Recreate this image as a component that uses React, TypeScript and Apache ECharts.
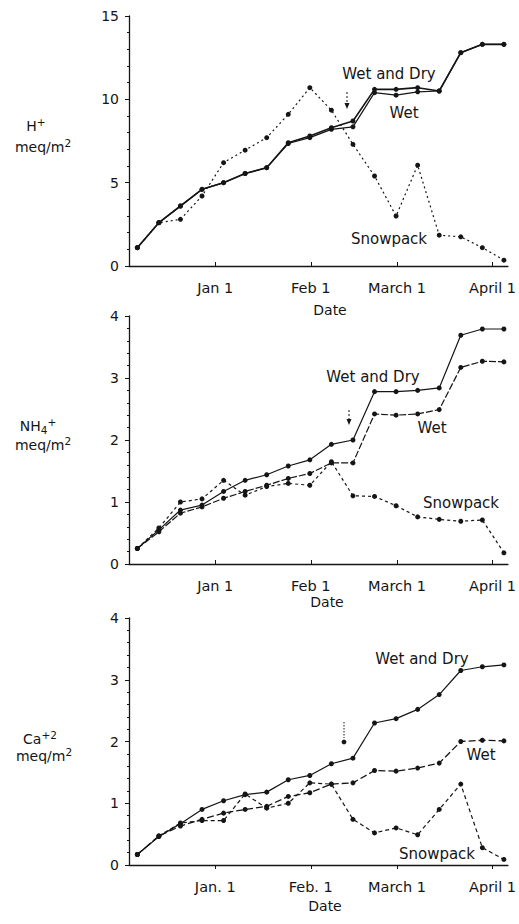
import React, { useEffect, useRef } from "react";
import * as echarts from "echarts";

// Sample days (days relative to Jan 1; negative = December), roughly weekly
const DAYS = [-25.3, -18.3, -11.3, -4.3, 2.7, 9.7, 16.7, 23.7, 30.7, 37.7, 44.7, 51.7, 58.7, 65.7, 72.7, 79.7, 86.7, 93.7];

// Tick positions (days from Jan 1) and labels
const TICK_DAYS = [0, 31, 59, 90];
const TICK_LABELS_A = ["Jan 1", "Feb 1", "March 1", "April 1"];
const TICK_LABELS_B = ["Jan. 1", "Feb. 1", "March 1", "April 1"];

// Panel 1: H+
const H_WETDRY = [1.1, 2.6, 3.6, 4.6, 5.0, 5.55, 5.9, 7.4, 7.8, 8.3, 8.7, 10.6, 10.6, 10.7, 10.5, 12.8, 13.3, 13.3];
const H_WET = [1.1, 2.6, 3.6, 4.6, 5.0, 5.55, 5.9, 7.35, 7.7, 8.2, 8.35, 10.4, 10.25, 10.45, 10.5, 12.8, 13.3, 13.3];
const H_SNOW = [1.1, 2.6, 2.8, 4.2, 6.2, 6.95, 7.7, 9.1, 10.7, 9.35, 7.3, 5.4, 3.0, 6.05, 1.85, 1.75, 1.1, 0.35];

// Panel 2: NH4+
const NH_WETDRY = [0.25, 0.55, 0.87, 0.95, 1.17, 1.35, 1.44, 1.58, 1.68, 1.93, 2.0, 2.78, 2.78, 2.8, 2.84, 3.69, 3.79, 3.79];
const NH_WET = [0.25, 0.52, 0.82, 0.92, 1.06, 1.17, 1.27, 1.38, 1.46, 1.63, 1.63, 2.42, 2.4, 2.42, 2.49, 3.17, 3.27, 3.26];
const NH_SNOW = [0.25, 0.58, 1.0, 1.05, 1.35, 1.11, 1.25, 1.3, 1.27, 1.65, 1.1, 1.09, 0.94, 0.76, 0.72, 0.69, 0.71, 0.18];

// Panel 3: Ca+2
const CA_WETDRY = [0.17, 0.46, 0.67, 0.9, 1.04, 1.14, 1.18, 1.38, 1.45, 1.64, 1.73, 2.3, 2.37, 2.52, 2.76, 3.15, 3.21, 3.24];
const CA_WET = [0.17, 0.47, 0.63, 0.74, 0.84, 0.9, 0.95, 1.11, 1.17, 1.31, 1.33, 1.53, 1.52, 1.57, 1.65, 2.0, 2.02, 2.01];
const CA_SNOW = [0.17, 0.47, 0.68, 0.72, 0.72, 1.15, 0.92, 1.0, 1.33, 1.31, 0.74, 0.52, 0.6, 0.49, 0.9, 1.31, 0.28, 0.09];

const FONT = "DejaVu Sans";
const INK = "#151515";

function pairs(vals: number[]) {
  return DAYS.map((d, i) => [d, vals[i]]);
}

export default function App() {
  const ref = useRef<HTMLDivElement>(null);

  useEffect(() => {
    if (!ref.current) return;
    const chart = echarts.init(ref.current, null, { renderer: "svg" });

    const grids = [
      { left: 129, top: 16, width: 381, height: 250 },
      { left: 129, top: 316, width: 381, height: 248 },
      { left: 129, top: 618, width: 381, height: 247 },
    ];
    const yMax = [15, 4, 4];
    const yInt = [5, 1, 1];
    const labelSets = [TICK_LABELS_A, TICK_LABELS_A, TICK_LABELS_B];

    const xAxis = grids.map((_, i) => ({
      type: "value",
      gridIndex: i,
      min: -28,
      max: 95,
      axisLine: { show: true, onZero: false, lineStyle: { color: INK, width: 1.3 } },
      axisTick: { show: true, customValues: TICK_DAYS, inside: i < 2, length: 4, lineStyle: { color: INK } },
      axisLabel: {
        show: true,
        customValues: TICK_DAYS,
        margin: 14,
        fontSize: 14.5,
        fontFamily: FONT,
        color: INK,
        formatter: (v: number) => {
          const k = TICK_DAYS.findIndex((t) => Math.abs(t - v) < 0.5);
          return k >= 0 ? labelSets[i][k] : "";
        },
      },
      splitLine: { show: false },
    }));

    const yAxis = grids.map((_, i) => ({
      type: "value",
      gridIndex: i,
      min: 0,
      max: yMax[i],
      interval: yInt[i],
      axisLine: { show: true, onZero: false, lineStyle: { color: INK, width: 1.3 } },
      axisTick: { show: true, length: 4, lineStyle: { color: INK } },
      minorTick: { show: true, splitNumber: 5, length: 2, lineStyle: { color: INK } },
      axisLabel: { fontSize: 14, fontFamily: FONT, color: INK, margin: 10 },
      splitLine: { show: false },
    }));

    const mk = (name: string, vals: number[], idx: number, type: any, width: number) => ({
      name,
      type: "line",
      xAxisIndex: idx,
      yAxisIndex: idx,
      data: pairs(vals),
      symbol: "circle",
      symbolSize: 5,
      itemStyle: { color: INK },
      lineStyle: { color: INK, width, type },
      z: 3,
    });

    const series = [
      mk("Wet and Dry", H_WETDRY, 0, "solid", 1.6),
      mk("Wet", H_WET, 0, "solid", 1.2),
      mk("Snowpack", H_SNOW, 0, [2, 3], 1.2),
      mk("Wet and Dry", NH_WETDRY, 1, "solid", 1.2),
      mk("Wet", NH_WET, 1, [7, 2], 1.2),
      mk("Snowpack", NH_SNOW, 1, [3, 3], 1.2),
      mk("Wet and Dry", CA_WETDRY, 2, "solid", 1.2),
      mk("Wet", CA_WET, 2, [7, 3], 1.3),
      mk("Snowpack", CA_SNOW, 2, [4, 3], 1.2),
    ];

    const txt = (text: string, x: number, y: number, size = 15) => ({
      type: "text",
      x,
      y,
      style: {
        text,
        fontSize: size,
        fontFamily: FONT,
        fill: INK,
        textAlign: "center",
        textVerticalAlign: "middle",
      },
    });

    const rich = {
      b: { fontSize: 14, fontFamily: FONT, color: INK, lineHeight: 19 },
      s: { fontSize: 10.5, fontFamily: FONT, color: INK, verticalAlign: "top", lineHeight: 11 },
      u: { fontSize: 10.5, fontFamily: FONT, color: INK, verticalAlign: "bottom", lineHeight: 11 },
    };
    const rtxt = (text: string, x: number, y: number) => ({
      type: "text",
      x,
      y,
      style: {
        text,
        rich,
        fill: INK,
        textAlign: "center",
        textVerticalAlign: "middle",
      },
    });

    const arrow = (x: number, y1: number, y2: number) => ([
      { type: "line", shape: { x1: x, y1, x2: x, y2 }, style: { stroke: INK, lineWidth: 1, lineDash: [2, 2] } },
      { type: "polygon", shape: { points: [[x - 2.5, y2 - 1], [x + 2.5, y2 - 1], [x, y2 + 5]] }, style: { fill: INK } },
    ]);

    const graphic = [
      // Panel 1
      rtxt("{b|H}{s|+}", 36, 126),
      rtxt("{b|meq/m}{s|2}", 43, 147),
      txt("Wet and Dry", 389, 74),
      txt("Wet", 404, 113),
      txt("Snowpack", 389, 239),
      txt("Date", 330, 310, 14),
      ...arrow(347, 92, 104),
      // Panel 2
      rtxt("{b|NH}{u|4}{s|+}", 38, 426),
      rtxt("{b|meq/m}{s|2}", 43, 445),
      txt("Wet and Dry", 373, 377),
      txt("Wet", 432, 428),
      txt("Snowpack", 461, 503),
      txt("Date", 327, 602, 14),
      ...arrow(349, 410, 420),
      // Panel 3
      rtxt("{b|Ca}{s|+2}", 40, 739),
      rtxt("{b|meq/m}{s|2}", 44, 756),
      txt("Wet and Dry", 422, 659),
      txt("Wet", 481, 755),
      txt("Snowpack", 437, 854),
      txt("Date", 325, 906, 14),
      { type: "line", shape: { x1: 344, y1: 722, x2: 344, y2: 738 }, style: { stroke: INK, lineWidth: 1, lineDash: [1.5, 1.5] } },
      { type: "circle", shape: { cx: 344, cy: 742, r: 2.4 }, style: { fill: INK } },
    ];

    chart.setOption({
      animation: false,
      backgroundColor: "#ffffff",
      textStyle: { fontFamily: FONT },
      grid: grids,
      xAxis,
      yAxis,
      series,
      graphic,
    } as any);

    return () => chart.dispose();
  }, []);

  return (
    <div
      ref={ref}
      style={{ position: "absolute", left: 0, top: 0, width: 519, height: 924, background: "#fff" }}
    />
  );
}
